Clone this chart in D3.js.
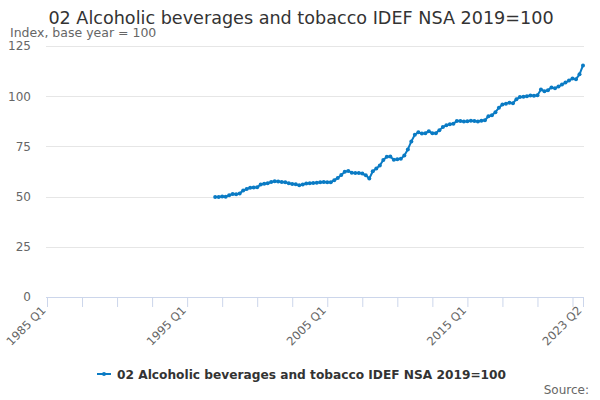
<!DOCTYPE html>
<html><head><meta charset="utf-8">
<script src="https://cdn.jsdelivr.net/npm/d3@7"></script>
<style>
html,body{margin:0;padding:0;background:#fff;}
svg{font-family:"DejaVu Sans",sans-serif;display:block;}
</style></head>
<body><svg id="c" width="600" height="400"></svg>
<script>
const startYear = 1985;
const firstDataQuarterIndex = 48; // 1997 Q1
const seriesName = "02 Alcoholic beverages and tobacco IDEF NSA 2019=100";
const values = [
 49.8,49.8,50.0,49.9, 50.7,51.3,51.2,51.6, 53.0,53.8,54.4,54.5, 54.6,56.0,56.4,56.7,
 57.3,57.7,57.5,57.3, 57.1,56.7,56.3,56.2, 55.6,56.0,56.5,56.6, 56.8,56.9,57.2,57.3,
 57.2,57.1,58.2,59.3, 60.8,62.4,62.8,61.9, 61.8,61.7,61.5,60.6, 59.0,62.6,64.0,65.5,
 68.2,69.8,70.0,68.3, 68.6,68.8,70.5,73.5, 77.5,80.8,82.0,81.4, 81.6,82.6,81.5,81.6,
 83.0,84.6,85.5,86.0, 86.3,87.7,87.6,87.4, 87.5,87.8,87.6,87.4, 87.8,88.0,90.0,90.5,
 92.0,94.3,95.9,96.3, 96.8,96.5,98.5,99.6, 99.7,100.0,100.4,100.2, 100.5,103.3,102.5,103.0,
 104.3,103.9,104.8,105.8, 106.8,107.8,108.8,108.5, 110.9,115.3
];
const yTicks = [0,25,50,75,100,125];
const xLabelIdx = [0,40,80,120,153];

const categories = [];
for (let y = startYear; y <= 2023; y++) for (let q = 1; q <= 4; q++) {
  if (y === 2023 && q > 2) break;
  categories.push(y + " Q" + q);
}
const data = values.map((v,i)=>({i: firstDataQuarterIndex + i, v}));

const svg = d3.select("#c");
const L = 47, R = 583, T = 46, B = 297;
const x = d3.scaleLinear().domain([0, categories.length-1]).range([L, R]);
const y = d3.scaleLinear().domain([0,125]).range([B, T]);

svg.append("g").selectAll("line").data(yTicks.filter(d=>d>0)).join("line")
  .attr("x1", L-1).attr("x2", R+1).attr("y1", d=>Math.round(y(d))+0.5).attr("y2", d=>Math.round(y(d))+0.5)
  .attr("stroke","#e6e6e6").attr("stroke-width",1);

const yAxis = d3.axisLeft(y).tickValues(yTicks).tickSize(0).tickPadding(0);
const ya = svg.append("g").attr("transform",`translate(${L-16},0)`).call(yAxis);
ya.select(".domain").remove();
ya.selectAll("text").attr("fill","#666").style("font-size","12px").style("font-family","DejaVu Sans, sans-serif");

const tickIdx = d3.range(0, categories.length, 10).concat([categories.length-1]);
const xAxis = d3.axisBottom(x).tickValues(tickIdx).tickSize(10).tickPadding(4)
  .tickFormat(d => xLabelIdx.includes(d) ? categories[d] : "");
const xa = svg.append("g").attr("transform",`translate(0,${B})`).call(xAxis);
xa.select(".domain").attr("stroke","#ccd6eb").attr("d",`M${L-1},0.5H${R+1}`);
xa.selectAll(".tick line").attr("stroke","#ccd6eb");
xa.selectAll("text").attr("fill","#666").style("font-size","11.6px").style("font-family","DejaVu Sans, sans-serif")
  .attr("text-anchor","end").attr("dy","0").attr("y",0)
  .attr("transform","translate(-1,14) rotate(-45)");

const line = d3.line().x(d=>x(d.i)).y(d=>y(d.v));
svg.append("path").datum(data).attr("d",line).attr("fill","none")
  .attr("stroke","#0a7bc4").attr("stroke-width",2).attr("stroke-linejoin","round");
svg.append("g").selectAll("circle").data(data).join("circle")
  .attr("cx",d=>x(d.i)).attr("cy",d=>y(d.v)).attr("r",2).attr("fill","#0a7bc4");

svg.append("text").attr("x",301).attr("y",24).attr("text-anchor","middle")
  .attr("fill","#333").style("font-size","17.6px").text(seriesName);
svg.append("text").attr("x",10).attr("y",37).attr("fill","#666").style("font-size","12.5px")
  .text("Index, base year = 100");

const lg = svg.append("g").attr("transform","translate(97,374)");
lg.append("line").attr("x1",0).attr("x2",14).attr("y1",0).attr("y2",0).attr("stroke","#0a7bc4").attr("stroke-width",2);
lg.append("circle").attr("cx",7).attr("cy",0).attr("r",2).attr("fill","#0a7bc4");
lg.append("text").attr("x",20).attr("y",4.5).attr("fill","#333").style("font-size","12.2px").style("font-weight","bold")
  .text(seriesName);

svg.append("text").attr("x",589).attr("y",394).attr("text-anchor","end").attr("fill","#666")
  .style("font-size","12px").text("Source:");
</script></body></html>
